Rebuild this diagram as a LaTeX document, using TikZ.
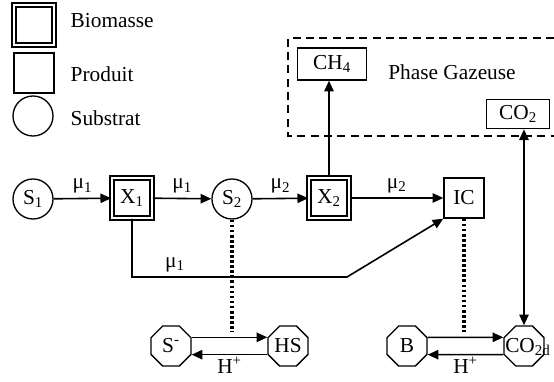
\documentclass[tikz,border=0pt]{standalone}
\usepackage{fontspec}
\setmainfont{Liberation Serif}
\usetikzlibrary{arrows.meta, shapes.geometric}
\tikzset{
	biomass/.style = {draw, line width=1.3pt, double=white, double distance=1.2pt, minimum size=30pt, inner sep=0pt},
	product/.style = {draw, line width=1pt, minimum size=30pt, inner sep=0pt},
	substrate/.style = {draw, circle, line width=1pt, minimum size=30pt, inner sep=0pt},
	ion/.style = {draw, regular polygon, regular polygon sides=8, line width=1pt, minimum size=32.5pt, inner sep=0pt},
	flux/.style = {-{Triangle[length=8pt, width=7pt]}, line width=1.2pt},
	equil/.style = {line width=2.5pt, dash pattern=on 2pt off 1.8pt}
}

\begin{document}
\begin{tikzpicture}[x=0.75pt, y=-0.75pt, font=\fontsize{16}{18}\selectfont]
	\useasboundingbox (0,0) rectangle (554,382);
	% ====== Legende ========
	\node[biomass] (LB) at (34,25) {};
	\node[product] (LP) at (34,73) {};
	\node[substrate] (LS) at (33,116) {};
	\node[anchor=west] (LBt) at (66,21) {Biomasse};
	\node[anchor=west] (LPt) at (66,74) {Produit};
	\node[anchor=west] (LSt) at (66,118) {Substrat};

	% ====== Phase gazeuse ========
	\draw[line width=1pt, dash pattern=on 6pt off 4pt] (554,38) -- (288,38) -- (288,136) -- (554,136);
	\node[product, minimum width=52pt, minimum height=24pt] (CH4) at (332,64) {CH\textsubscript{4}};
	\node (PG) at (452,72) {Phase Gazeuse};
	\node[product, minimum width=47pt, minimum height=22pt] (CO2) at (518,114) {CO\textsubscript{2}};

	% ====== Liquide ========
	\node[substrate] (S1) at (33,199) {S\textsubscript{1}};
	\node[biomass] (X1) at (132,198) {X\textsubscript{1}};
	\node[substrate] (S2) at (232,199) {S\textsubscript{2}};
	\node[biomass] (X2) at (329,198) {X\textsubscript{2}};
	\node[product] (IC) at (464,198) {IC};

	\draw[flux] (S1) -- node[above] {μ\textsubscript{1}} (X1);
	\draw[flux] (X1) -- node[above] {μ\textsubscript{1}} (S2);
	\draw[flux] (S2) -- node[above] {μ\textsubscript{2}} (X2);
	\draw[flux] (X2) -- node[above] {μ\textsubscript{2}} (IC);
	\draw[flux] (X2.north) -- (X2.north |- CH4.south);

	\coordinate (K1) at (132,277);
	\coordinate (K2) at (347,277);
	\draw[flux] (X1.south) -- (K1) -- node[above, pos=0.2] {μ\textsubscript{1}} (K2) -- (IC.south west);

	% ====== Equilibres ========
	\node[ion] (Sm) at (171,346) {S\textsuperscript{-}};
	\node[ion] (HS) at (288,346) {HS};
	\node[ion] (B) at (407,346) {B};
	\node[ion] (CO2d) at (524,346) {};
	\node[anchor=west, inner sep=0pt] (CO2dt) at (505,347) {CO\textsubscript{2d}};

	\coordinate (D1) at (232,332);
	\coordinate (D2) at (464,332);
	\draw[equil] (S2.south) -- (D1);
	\draw[equil] (IC.south) -- (D2);

	\foreach \a/\b in {Sm/HS, B/CO2d} {
		\draw[flux] ([yshift=6.5pt]\a.east) -- ([yshift=6.5pt]\b.west);
		\draw[flux] ([yshift=-6.5pt]\b.west) -- node[below, inner sep=1pt] {H\textsuperscript{+}} ([yshift=-6.5pt]\a.east);
	}

	\draw[{Triangle[length=8pt, width=7pt]}-{Triangle[length=8pt, width=7pt]}, line width=1.2pt] (CO2d.north) -- (CO2d.north |- CO2.south);
\end{tikzpicture}
\end{document}
